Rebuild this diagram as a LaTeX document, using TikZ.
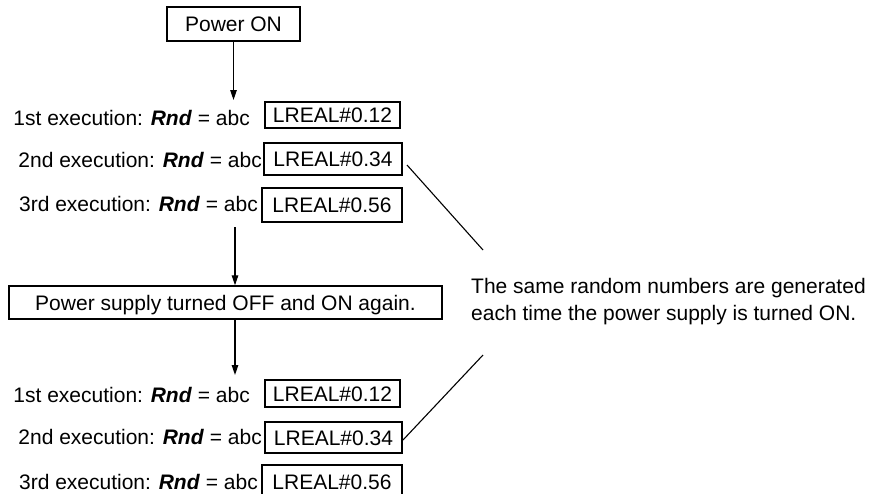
\documentclass[tikz,border=0pt]{standalone}
\usepackage{fontspec}
\setmainfont{Liberation Sans}
\usetikzlibrary{arrows.meta}

\begin{document}
\begin{tikzpicture}[
    x=1pt, y=-1pt,
    font=\fontsize{21}{26.5}\selectfont,
    >={Triangle[length=10pt,width=6.5pt]},
    box/.style={draw, line width=1.4pt, inner sep=0pt, text height=15pt, text depth=0pt},
    lbl/.style={inner sep=0pt, text height=15pt, text depth=0pt, anchor=east},
    flow/.style={->, line width=1.2pt},
    lead/.style={line width=1.1pt}]

  \useasboundingbox (0,0) rectangle (873,493);
  \clip (0,0) rectangle (873,493);

  % power on and the first run
  \node[box, minimum width=133pt, minimum height=34pt] (on) at (233.5,24) {Power ON};
  \coordinate (tip1) at (233.5,100);
  \draw[flow] (on) -- (tip1);

  \node[box, minimum width=135pt, minimum height=26pt] (r1) at (332.5,115) {LREAL\#0.12};
  \node[box, minimum width=138pt, minimum height=32pt] (r2) at (333,159)   {LREAL\#0.34};
  \node[box, minimum width=140pt, minimum height=34pt] (r3) at (332,205)   {LREAL\#0.56};
  \node[lbl] (l1) at (250,118)   {1st execution: \textbf{\textit{Rnd}} = abc};
  \node[lbl] (l2) at (262,160)   {2nd execution: \textbf{\textit{Rnd}} = abc};
  \node[lbl] (l3) at (258,203.5) {3rd execution: \textbf{\textit{Rnd}} = abc};

  % off and on again
  \coordinate (from2) at (235,227);
  \node[box, minimum width=433pt, minimum height=33pt] (off) at (225.5,302.5)
       {Power supply turned OFF and ON again.};
  \draw[flow] (from2) -- (from2 |- off.north);
  \coordinate (tip3) at (235,375);
  \draw[flow] (off.south -| tip3) -- (tip3);

  % the second run
  \node[box, minimum width=135pt, minimum height=27pt] (r1b) at (332.5,393.5) {LREAL\#0.12};
  \node[box, minimum width=137pt, minimum height=31pt] (r2b) at (333.5,437.5) {LREAL\#0.34};
  \node[box, minimum width=140pt, minimum height=34pt] (r3b) at (332,482)     {LREAL\#0.56};
  \node[lbl] (l1b) at (250,395)   {1st execution: \textbf{\textit{Rnd}} = abc};
  \node[lbl] (l2b) at (262,436.5) {2nd execution: \textbf{\textit{Rnd}} = abc};
  \node[lbl] (l3b) at (258,481.5) {3rd execution: \textbf{\textit{Rnd}} = abc};

  % note and its leaders
  \node[anchor=base west, align=left, inner sep=0pt] (note) at (471,320)
       {The same random numbers are generated\\each time the power supply is turned ON.};
  \coordinate (c1) at (407,165);
  \coordinate (c2) at (483,250);
  \coordinate (c3) at (483,355);
  \coordinate (c4) at (403,440);
  \draw[lead] (c1) -- (c2);
  \draw[lead] (c3) -- (c4);
\end{tikzpicture}
\end{document}
